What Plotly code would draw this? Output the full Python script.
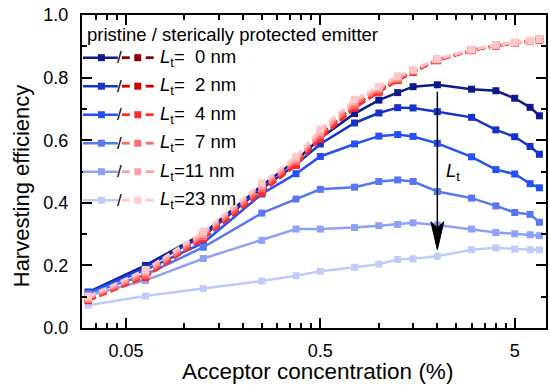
import numpy as np
import plotly.graph_objects as go

# ---------------- data ----------------
conc = [0.032, 0.063, 0.125, 0.25, 0.375, 0.5, 0.75, 1.0, 1.25, 1.5, 2, 3, 4, 5, 6, 6.7]
lt_labels = ["0", "2", "4", "7", "11", "23"]

pristine_0nm = [0.115, 0.200, 0.302, 0.455, 0.535, 0.606, 0.685, 0.728, 0.752, 0.771, 0.777, 0.763, 0.758, 0.734, 0.705, 0.678]
pristine_2nm = [0.113, 0.195, 0.294, 0.446, 0.522, 0.588, 0.655, 0.687, 0.704, 0.703, 0.691, 0.673, 0.633, 0.611, 0.580, 0.555]
pristine_4nm = [0.112, 0.186, 0.272, 0.428, 0.493, 0.548, 0.588, 0.613, 0.618, 0.612, 0.590, 0.547, 0.506, 0.492, 0.461, 0.448]
pristine_7nm = [0.110, 0.170, 0.258, 0.367, 0.412, 0.443, 0.450, 0.468, 0.473, 0.468, 0.436, 0.415, 0.390, 0.369, 0.363, 0.338]
pristine_11nm = [0.104, 0.152, 0.222, 0.280, 0.316, 0.316, 0.321, 0.327, 0.331, 0.336, 0.329, 0.316, 0.305, 0.301, 0.298, 0.295]
pristine_23nm = [0.073, 0.102, 0.126, 0.150, 0.167, 0.181, 0.194, 0.204, 0.219, 0.221, 0.229, 0.250, 0.256, 0.252, 0.250, 0.250]

protected_0nm = [0.095, 0.175, 0.295, 0.445, 0.530, 0.615, 0.712, 0.760, 0.795, 0.820, 0.857, 0.888, 0.903, 0.911, 0.917, 0.922]
protected_2nm = [0.090, 0.165, 0.287, 0.435, 0.522, 0.607, 0.705, 0.755, 0.792, 0.818, 0.855, 0.887, 0.902, 0.910, 0.916, 0.921]
protected_4nm = [0.088, 0.162, 0.285, 0.432, 0.520, 0.605, 0.703, 0.754, 0.791, 0.818, 0.855, 0.887, 0.902, 0.910, 0.916, 0.921]
protected_7nm = [0.092, 0.170, 0.293, 0.445, 0.532, 0.617, 0.713, 0.761, 0.796, 0.821, 0.857, 0.888, 0.903, 0.911, 0.917, 0.922]
protected_11nm = [0.096, 0.178, 0.300, 0.455, 0.540, 0.626, 0.722, 0.767, 0.800, 0.823, 0.858, 0.889, 0.904, 0.912, 0.918, 0.922]
protected_23nm = [0.100, 0.186, 0.308, 0.463, 0.548, 0.635, 0.730, 0.772, 0.805, 0.826, 0.860, 0.890, 0.904, 0.912, 0.918, 0.923]

x_major_ticks = [0.05, 0.5, 5]
x_major_text = ["0.05", "0.5", "5"]
x_minor_ticks = [0.035, 0.04, 0.045, 0.1, 0.15, 0.2, 0.25, 0.3, 0.35, 0.4, 0.45,
                 1, 1.5, 2, 2.5, 3, 3.5, 4, 4.5]
y_major_ticks = [0.0, 0.2, 0.4, 0.6, 0.8, 1.0]
y_major_text = ["0.0", "0.2", "0.4", "0.6", "0.8", "1.0"]
y_minor_ticks = [0.1, 0.3, 0.5, 0.7, 0.9]

arrow_x = 2.0
arrow_y_start = 0.755
arrow_y_end = 0.25

pristine = [pristine_0nm, pristine_2nm, pristine_4nm, pristine_7nm, pristine_11nm, pristine_23nm]
protected = [protected_0nm, protected_2nm, protected_4nm, protected_7nm, protected_11nm, protected_23nm]

blue_colors = ["#0c1a8c", "#1533c8", "#2550f5", "#5777f2", "#8ea1f6", "#c0cbfa"]
red_colors = ["#8b0000", "#d00000", "#ff2a2a", "#ff6b6b", "#ffa0a0", "#ffc9c9"]

# ---------------- layout geometry ----------------
W, H = 550, 385
ML, MR, MT, MB = 82, 2, 15, 57
PW, PH = W - ML - MR, H - MT - MB
XR = [-1.527, 0.86]
YR = [0.0, 1.0]
FONT = "Liberation Sans, Arial, sans-serif"


def px2paper(px, py):
    return (px - ML) / PW, (H - MB - py) / PH


def data2paper(x, y):
    return ((np.log10(x) - XR[0]) / (XR[1] - XR[0]), (y - YR[0]) / (YR[1] - YR[0]))


fig = go.Figure()

for vals, col in zip(pristine, blue_colors):
    fig.add_trace(go.Scatter(
        x=conc, y=vals, mode="lines+markers",
        line=dict(color=col, width=2.5),
        marker=dict(symbol="square", size=7, color=col),
        showlegend=False, hoverinfo="skip"))

for vals, col in zip(protected, red_colors):
    fig.add_trace(go.Scatter(
        x=conc, y=vals, mode="lines+markers",
        line=dict(color=col, width=2.8, dash="8px,4px"),
        marker=dict(symbol="square", size=7.5, color=col),
        showlegend=False, hoverinfo="skip"))

shapes = []
annotations = []

# ---------------- hand-drawn legend ----------------
hx, hy = px2paper(85, 34)
annotations.append(dict(xref="paper", yref="paper", x=hx, y=hy, xanchor="left", yanchor="middle",
                        text="pristine / sterically protected emitter", showarrow=False,
                        font=dict(family=FONT, size=18.5, color="black")))

row_y = [57.7, 86.2, 114.7, 143.2, 171.7, 200.2]
for i, (lab, bc, rc) in enumerate(zip(lt_labels, blue_colors, red_colors)):
    py = row_y[i]
    x0, y0 = px2paper(83, py)
    x1, _ = px2paper(118, py)
    shapes.append(dict(type="line", xref="paper", yref="paper", x0=x0, x1=x1, y0=y0, y1=y0,
                       line=dict(color=bc, width=2.5)))
    mx0, my0 = px2paper(98, py + 3.5)
    mx1, my1 = px2paper(105, py - 3.5)
    shapes.append(dict(type="rect", xref="paper", yref="paper", x0=mx0, x1=mx1, y0=my0, y1=my1,
                       fillcolor=bc, line=dict(width=0)))
    sx, sy = px2paper(119.5, py)
    annotations.append(dict(xref="paper", yref="paper", x=sx, y=sy, xanchor="center", yanchor="middle",
                            text="/", showarrow=False, font=dict(family=FONT, size=17, color="black")))
    for a, b in [(122, 130), (146, 154)]:
        ax0, _ = px2paper(a, py)
        ax1, _ = px2paper(b, py)
        shapes.append(dict(type="line", xref="paper", yref="paper", x0=ax0, x1=ax1, y0=y0, y1=y0,
                           line=dict(color=rc, width=2.8)))
    rx0, ry0 = px2paper(134.5, py + 3.5)
    rx1, ry1 = px2paper(141.5, py - 3.5)
    shapes.append(dict(type="rect", xref="paper", yref="paper", x0=rx0, x1=rx1, y0=ry0, y1=ry1,
                       fillcolor=rc, line=dict(width=0)))
    pad = "&nbsp;&nbsp;" if len(lab) == 1 else ""
    tx, ty = px2paper(158, py)
    annotations.append(dict(xref="paper", yref="paper", x=tx, y=ty, xanchor="left", yanchor="middle",
                            text="<i>L</i><sub>t</sub>=" + pad + lab + " nm", showarrow=False,
                            font=dict(family=FONT, size=18.5, color="black")))

# ---------------- arrow ----------------
ax_p, ays = data2paper(arrow_x, arrow_y_start)
_, aye = data2paper(arrow_x, arrow_y_end)
head_len = 28 / PH
head_half = 6.5 / PW
notch = 6 / PH
shapes.append(dict(type="line", xref="paper", yref="paper", x0=ax_p, x1=ax_p, y0=ays, y1=aye + head_len * 0.5,
                   line=dict(color="black", width=1.5)))
shapes.append(dict(type="path", xref="paper", yref="paper",
                   path=f"M {ax_p},{aye} L {ax_p - head_half},{aye + head_len} L {ax_p},{aye + head_len - notch} "
                        f"L {ax_p + head_half},{aye + head_len} Z",
                   fillcolor="black", line=dict(color="black", width=1)))
lx, ly = data2paper(arrow_x, 0.497)
annotations.append(dict(xref="paper", yref="paper", x=lx + 7 / PW, y=ly, xanchor="left", yanchor="middle",
                        text="<i>L</i><sub>t</sub>", showarrow=False,
                        font=dict(family=FONT, size=18.5, color="black")))

# ---------------- axis titles ----------------
tx, ty = px2paper(318.5, 371)
annotations.append(dict(xref="paper", yref="paper", x=tx, y=ty, xanchor="center", yanchor="middle",
                        text="Acceptor concentration (%)", showarrow=False,
                        font=dict(family=FONT, size=22.5, color="black")))
tx, ty = px2paper(21, 186)
annotations.append(dict(xref="paper", yref="paper", x=tx, y=ty, xanchor="center", yanchor="middle",
                        text="Harvesting efficiency", textangle=-90, showarrow=False,
                        font=dict(family=FONT, size=22, color="black")))

axis_common = dict(showline=True, linecolor="black", linewidth=2, mirror="ticks",
                   ticks="inside", ticklen=10, tickwidth=1.5, tickcolor="black",
                   showgrid=False, zeroline=False,
                   tickfont=dict(family=FONT, size=18, color="black"))

fig.update_layout(
    width=W, height=H,
    margin=dict(l=ML, r=MR, t=MT, b=MB),
    paper_bgcolor="white", plot_bgcolor="white",
    showlegend=False,
    shapes=shapes, annotations=annotations,
    xaxis=dict(type="log", range=XR, tickmode="array", tickvals=x_major_ticks, ticktext=x_major_text,
               ticklabelstandoff=5,
               minor=dict(tickmode="array", tickvals=x_minor_ticks, ticks="inside", ticklen=5,
                          tickwidth=1.5, tickcolor="black", showgrid=False),
               **axis_common),
    yaxis=dict(range=YR, tickmode="array", tickvals=y_major_ticks, ticktext=y_major_text,
               ticklabelstandoff=8,
               minor=dict(tickmode="array", tickvals=y_minor_ticks, ticks="inside", ticklen=5,
                          tickwidth=1.5, tickcolor="black", showgrid=False),
               **axis_common),
)

fig.write_html("out.html", config={"displayModeBar": False},
               post_script="document.body.style.margin='0px';document.body.style.padding='0px';")
